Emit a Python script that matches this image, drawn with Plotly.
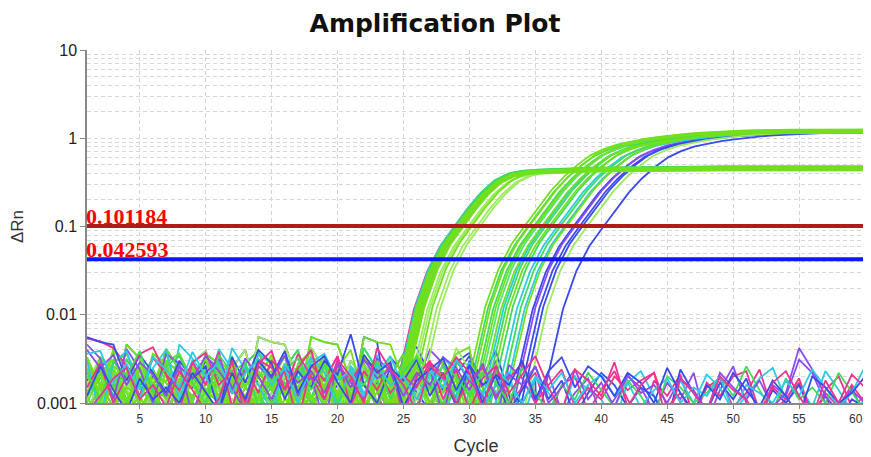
import numpy as np
import plotly.graph_objects as go

# ---------------- data ----------------
CYCLES = list(range(1, 61))

# baseline noise traces (units of 1e-3 dRn)
NOISE_0 = [5.4,5.0,4.2,2.6,1.2,3.3,2.1,0.8,2.9,1.6,3.8,0.9,2.5,1.3,3.0,2.2,0.6,2.7,1.8,3.4,0.9,2.3,1.4,2.8,0.7,2.0,3.0,1.1,2.4,0.8,1.9,2.6,1.0,1.5,2.2,0.7,1.6,2.0,0.8,1.4,2.3,1.1,0.6,1.8,1.2,2.1,0.7,1.5,1.9,0.9,1.3,2.4,0.8,1.1,1.7,0.6,1.4,2.0,0.9,1.2]
NOISE_1 = [4.6,3.2,1.1,4.1,2.4,1.0,3.6,2.8,0.7,2.2,3.1,1.5,0.8,2.6,1.9,3.5,1.2,2.0,0.6,2.9,1.7,1.1,3.2,2.3,0.9,1.6,2.5,0.7,3.0,1.8,1.2,0.6,2.7,1.9,1.0,2.1,0.8,1.3,1.9,0.7,1.1,2.0,1.5,0.8,1.7,1.1,2.2,0.6,1.4,2.6,1.0,0.7,1.6,1.2,3.1,2.2,1.0,0.8,1.5,0.7]
NOISE_2 = [3.0,0.7,2.8,3.9,1.4,2.5,4.0,1.1,3.1,2.0,1.0,4.2,2.4,1.6,0.8,2.7,1.9,3.3,2.2,0.9,2.6,1.3,2.1,3.4,1.5,0.8,2.4,1.8,1.2,2.9,0.9,1.6,2.2,0.6,1.9,1.3,0.8,2.0,1.4,1.1,0.6,1.7,2.3,1.2,0.7,1.8,1.0,2.1,1.5,0.8,1.2,1.9,2.5,1.1,1.6,0.9,2.3,1.4,0.8,1.1]
NOISE_3 = [5.6,4.9,4.6,1.8,3.5,2.2,1.3,3.0,1.9,2.6,0.8,3.3,1.7,4.0,2.8,1.1,2.3,1.5,3.0,2.1,6.0,1.6,1.0,2.5,1.8,3.1,1.2,2.2,0.9,2.7,1.6,2.0,0.8,1.4,2.6,1.1,1.8,0.7,1.3,2.2,1.6,0.9,1.5,1.2,0.6,2.4,1.3,0.8,1.7,1.1,1.9,0.7,1.4,1.0,1.6,0.8,1.2,0.6,1.1,0.9]
NOISE_4 = [1.5,2.8,1.0,2.0,3.6,4.3,2.1,1.4,2.9,3.7,1.6,2.3,1.0,3.1,2.5,1.4,3.6,2.0,1.1,2.7,1.8,3.0,2.4,1.3,2.0,1.5,2.9,2.1,1.0,1.8,2.5,1.2,1.9,2.8,1.0,1.6,2.4,0.9,1.5,1.1,2.0,1.4,1.8,2.2,0.9,1.3,0.7,1.7,1.2,2.0,2.3,0.8,1.5,1.1,1.9,0.7,1.3,0.9,1.6,1.0]
NOISE_5 = [2.2,1.1,3.0,2.0,3.9,1.3,2.6,3.4,1.7,1.0,3.5,2.2,2.9,0.9,1.8,2.4,3.2,1.4,2.7,1.0,2.1,1.6,3.0,1.1,2.3,3.3,1.5,2.6,2.0,1.2,2.2,1.7,1.0,2.5,1.3,0.8,1.6,1.1,2.2,1.4,0.9,1.8,1.2,0.7,2.0,1.5,1.0,1.3,2.0,1.2,2.6,1.4,0.8,1.9,1.1,1.5,1.0,2.2,1.3,0.8]
NOISE_6 = [4.0,2.5,3.5,1.6,2.9,2.1,1.2,2.6,1.9,3.4,2.3,1.4,3.2,2.0,1.1,2.5,1.7,2.3,1.3,2.8,1.5,3.1,1.9,2.4,1.2,2.2,1.6,3.3,2.5,1.4,2.8,1.1,2.1,1.6,2.6,1.0,1.5,2.4,1.1,1.7,0.9,2.1,1.3,1.6,1.0,1.9,1.4,0.8,2.2,1.5,1.1,1.8,0.9,1.3,4.2,2.4,1.2,0.8,1.4,1.0]
NOISE_7 = [3.6,3.9,1.7,2.8,1.1,3.3,2.4,1.5,3.8,2.0,2.9,1.3,2.2,3.1,1.6,2.5,1.0,2.9,3.6,1.8,2.3,1.2,2.7,1.6,2.0,1.1,2.3,1.5,3.0,1.9,1.3,2.4,1.7,1.0,2.0,1.4,2.2,1.0,1.6,2.1,1.2,1.7,0.9,1.4,1.9,1.0,1.5,1.2,2.0,0.8,1.6,1.3,1.0,1.8,1.2,2.4,1.5,0.9,1.3,2.6]
NOISE = [NOISE_0, NOISE_1, NOISE_2, NOISE_3, NOISE_4, NOISE_5, NOISE_6, NOISE_7]

# amplification profile around the 0.1 crossing (cycle offsets)
PROFILE_OFFSET = [-5,-4,-3,-2,-1,0,1,2,3,4,5,6,7,8,9,10,11,12,13,14,15,16,17,18,19,20,40]
PROFILE_LOW  = [0.0006,0.0026,0.012,0.032,0.062,0.100,0.160,0.240,0.325,0.385,0.410,0.420,0.427,0.432,0.437,0.442,0.445,0.447,0.450,0.452,0.454,0.455,0.456,0.457,0.457,0.457,0.457]
PROFILE_HIGH = [0.0006,0.0026,0.012,0.032,0.062,0.100,0.160,0.251,0.363,0.490,0.631,0.741,0.832,0.891,0.955,1.000,1.047,1.084,1.110,1.135,1.155,1.175,1.185,1.190,1.195,1.200,1.200]

# early group (plateau ~0.45): cycle at which dRn = 0.1, and plateau scale
CT_EARLY = [28.8, 28.9, 28.95, 29.0, 29.0, 29.05, 29.1, 29.1, 29.15, 29.2, 29.2, 29.25,
            29.3, 29.3, 29.35, 29.4, 29.5, 29.6, 29.8, 30.0, 30.2, 30.5, 30.8]
SCALE_EARLY = [0.97, 1.02, 0.95, 1.0, 1.04, 0.98, 1.03, 0.96, 1.01, 0.99, 1.05, 0.97,
               1.02, 0.98, 1.04, 0.96, 1.0, 1.03, 0.95, 0.99, 1.02, 0.97, 1.0]
COL_EARLY = ['pink', 'cyan', 'lime', 'blue', 'green', 'lime', 'purple', 'cyan', 'lime', 'blue',
             'green', 'lime', 'lime', 'purple', 'green', 'lime', 'lime', 'lime', 'light',
             'light', 'lime', 'light', 'light']

# late group (plateau ~1.2)
CT_LATE = [34.2, 34.4, 34.6, 34.8, 35.0, 35.2, 35.4, 35.6, 35.8, 36.0, 36.3, 36.6, 36.9,
           37.2, 37.4, 37.8, 38.0, 38.3, 38.6, 38.9, 40.1]
SCALE_LATE = [1.02, 0.98, 1.04, 0.97, 1.01, 1.03, 0.96, 1.0, 1.02, 0.98, 1.04, 0.97, 1.01,
              0.99, 1.03, 0.96, 1.0, 0.98, 1.02, 0.99, 0.97]
COL_LATE = ['lime', 'green', 'lime', 'green', 'lime', 'green2', 'lime', 'cyan', 'green',
            'lime', 'green', 'cyan', 'green', 'cyan', 'lime', 'blue', 'purple', 'blue',
            'blue', 'light', 'blue']

# no-amplification wells
COL_NTC = ['pink', 'purple', 'cyan', 'blue', 'pink', 'green', 'purple', 'cyan', 'blue', 'pink']
NTC_NOISE = [0, 1, 2, 3, 4, 5, 6, 7, 5, 2]

THRESHOLDS = [0.101184, 0.042593]
THRESH_LABELS = ['0.101184', '0.042593']

X_TICKS = [5, 10, 15, 20, 25, 30, 35, 40, 45, 50, 55, 60]
X_TICK_TEXT = ['5', '10', '15', '20', '25', '30', '35', '40', '45', '50', '55', '']
X_LAST_LABEL = '60'   # drawn right-aligned at the axis end so it stays inside the page
Y_TICKS = [0.001, 0.01, 0.1, 1, 10]
Y_TICK_TEXT = ['0.001', '0.01', '0.1', '1', '10']

# ---------------- style ----------------
PALETTE = {
    'lime': '#72e01c', 'green': '#3fdc58', 'green2': '#55e27a', 'light': '#9aec5c',
    'cyan': '#2ccbe4', 'blue': '#3a4aee', 'purple': '#8c4cf0', 'pink': '#f0338f',
}
ORDER = {'pink': 0, 'purple': 0, 'blue': 0, 'cyan': 1, 'green2': 2, 'green': 2, 'light': 3, 'lime': 4}
LW = 1.8

fig = go.Figure()

def add(x, y, col):
    fig.add_trace(go.Scatter(x=x, y=y, mode='lines', line=dict(color=PALETTE[col], width=LW),
                             hoverinfo='skip', showlegend=False))

def amp_curve(k, ct, scale, profile, col):
    base = np.roll(np.array(NOISE[k % 8]) * 1e-3, (k * 7) % 60)
    start = ct + PROFILE_OFFSET[0]
    nx = [c for c in CYCLES if c < start]
    ny = list(base[:len(nx)])
    px = [ct + o for o in PROFILE_OFFSET]
    py = [v * scale for v in profile]
    keep = [(a, b) for a, b in zip(px, py) if a <= 60.5]
    if keep[-1][0] < 60:
        keep.append((60, py[len(keep)]))
    return (ORDER[col], nx + [a for a, _ in keep], ny + [b for _, b in keep], col)

curves = []
for k, (ct, s, col) in enumerate(zip(CT_LATE, SCALE_LATE, COL_LATE)):
    curves.append(amp_curve(k + 3, ct, s, PROFILE_HIGH, col))
for k, (ct, s, col) in enumerate(zip(CT_EARLY, SCALE_EARLY, COL_EARLY)):
    curves.append(amp_curve(k, ct, s, PROFILE_LOW, col))
for _, x, y, col in sorted(curves, key=lambda c: c[0]):
    add(x, y, col)

# NTC wells (drawn over the amplified wells' baselines)
for i, col in enumerate(COL_NTC):
    n = np.roll(np.array(NOISE[NTC_NOISE[i]]), 11 * (i // 8)) * 1e-3
    add(CYCLES, list(n), col)

# threshold lines
for t, c in zip(THRESHOLDS, ['#b01c1c', '#0a18f2']):
    fig.add_trace(go.Scatter(x=[1, 60], y=[t, t], mode='lines', line=dict(color=c, width=4),
                             hoverinfo='skip', showlegend=False))
for t, lab in zip(THRESHOLDS, THRESH_LABELS):
    fig.add_annotation(x=1, y=np.log10(t), xref='x', yref='y', text=lab, showarrow=False,
                       xanchor='left', yanchor='bottom', xshift=-3, yshift=-5,
                       font=dict(family='Liberation Serif', size=22, color='#ff0000', weight='bold'))

# last x tick label
fig.add_annotation(x=X_TICKS[-1], y=0, xref='x', yref='paper', text=X_LAST_LABEL,
                   showarrow=False, xanchor='right', yanchor='top', xshift=0, yshift=-7,
                   font=dict(family='Liberation Sans', size=12, color='#333'))

grid = dict(showgrid=True, gridcolor='#d4d4d4', griddash='4px,3px', gridwidth=1)

# the page body adds an 8px offset, so the figure is sized/margined to compensate
fig.update_layout(
    width=863, height=449,
    margin=dict(l=79, r=6, t=42, b=54, autoexpand=False),
    paper_bgcolor='white', plot_bgcolor='white',
    title=dict(text='<b>Amplification Plot</b>', x=427 / 863, xref='container', xanchor='center',
               y=1 - 15 / 449, yref='container', yanchor='middle',
               font=dict(family='DejaVu Sans', size=25, color='#111')),
    xaxis=dict(range=[1, 60], tickvals=X_TICKS, ticktext=X_TICK_TEXT, ticks='outside',
               ticklen=4, tickcolor='#888',
               showline=True, linecolor='#888', linewidth=1.5, zeroline=False, automargin=False,
               tickfont=dict(family='Liberation Sans', size=12, color='#333'),
               title=dict(text='Cycle', font=dict(family='Liberation Sans', size=18, color='#333'),
                          standoff=14),
               **grid),
    yaxis=dict(type='log', range=[-3, 1], tickvals=Y_TICKS, ticktext=Y_TICK_TEXT,
               ticks='outside', ticklen=5, tickcolor='#888', automargin=False,
               showline=True, linecolor='#888', linewidth=1.5, mirror=True, zeroline=False,
               tickfont=dict(family='Liberation Sans', size=16, color='#222'),
               title=dict(text='ΔRn', font=dict(family='Liberation Sans', size=17, color='#333'),
                          standoff=12),
               minor=dict(tickvals=[m * 10.0 ** e for e in range(-3, 1) for m in range(2, 10)],
                          showgrid=True, gridcolor='#d8d8d8', griddash='4px,3px', gridwidth=1,
                          ticks=''),
               **grid),
)

fig.write_html('out.html')
